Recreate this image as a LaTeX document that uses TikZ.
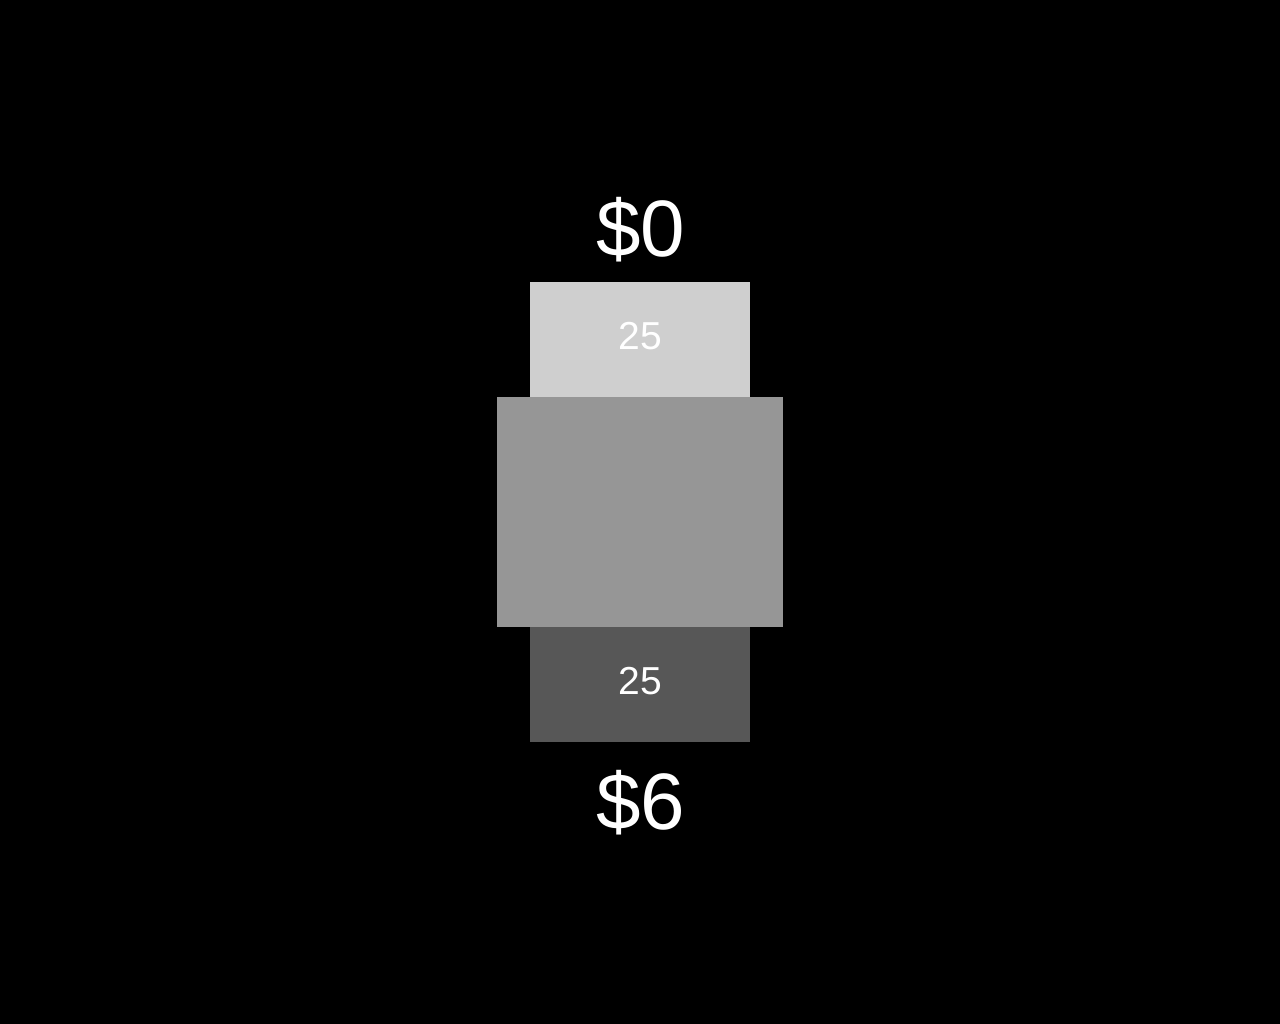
\documentclass[tikz,border=0pt]{standalone}
\usepackage{fontspec}
\setmainfont{Liberation Sans}
\definecolor{topc}{RGB}{207,207,207}
\definecolor{midc}{RGB}{150,150,150}
\definecolor{botc}{RGB}{87,87,87}
\tikzset{
  blk/.style={inner sep=0pt, outer sep=0pt, draw=none},
  bigval/.style={text=white, inner sep=0pt, anchor=base, font=\fontsize{80}{90}\selectfont},
  smallval/.style={text=white, inner sep=0pt, anchor=base, font=\fontsize{39}{44}\selectfont}
}
\begin{document}
\begin{tikzpicture}[x=1pt,y=-1pt]
\fill[black] (0,0) rectangle (1280,1024);
\useasboundingbox (0,0) rectangle (1280,1024);
\fill[topc] (530,282) rectangle (750,397.5);
\fill[midc] (497,397) rectangle (783,627.2);
\fill[botc] (530,627) rectangle (750,742);
\node[bigval] (top) at (640.5,257) {\$0};
\node[smallval] (a) at (640,349) {25};
\node[smallval] (b) at (640,694) {25};
\node[bigval] (bot) at (640.5,829) {\$6};
\end{tikzpicture}
\end{document}
